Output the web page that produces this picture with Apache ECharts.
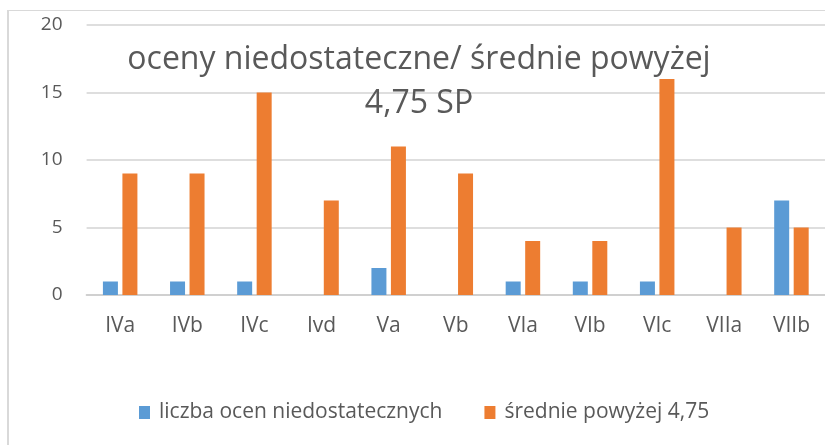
<!DOCTYPE html>
<html>
<head>
<meta charset="utf-8">
<script src="https://cdn.jsdelivr.net/npm/echarts@6/dist/echarts.min.js"></script>
<style>
html,body{margin:0;padding:0;background:#fff;}
#c{width:825px;height:445px;}
</style>
</head>
<body>
<div id="c"></div>
<script>
var categories = ['IVa','IVb','IVc','Ivd','Va','Vb','VIa','VIb','VIc','VIIa','VIIb'];
var seriesNames = ['liczba ocen niedostatecznych','średnie powyżej 4,75'];
var failingGrades = [1,1,1,0,2,0,1,1,1,0,7];
var highAverages = [9,9,15,7,11,9,4,4,16,5,5];
var titleLines = ['oceny niedostateczne/ średnie powyżej','4,75 SP'];
var yTicks = {min:0, max:20, interval:5};

var FONT = '"Open Sans", sans-serif';
var GRAY = '#595959';
var chart = echarts.init(document.getElementById('c'), null, {renderer:'canvas'});
chart.setOption({
  animation:false,
  backgroundColor:'#ffffff',
  grid:{left:86.6, top:25, width:746, height:270, containLabel:false},
  graphic:[
    {type:'line', shape:{x1:8, y1:10, x2:8, y2:445}, style:{stroke:'#d9d9d9', lineWidth:2}, silent:true},
    {type:'line', shape:{x1:7, y1:10.5, x2:825, y2:10.5}, style:{stroke:'#d9d9d9', lineWidth:1}, silent:true},
    {type:'text', x:419, y:38, z:100, silent:true,
      style:{text:titleLines.join('\n'), fill:GRAY, fontFamily:FONT, fontSize:32, lineHeight:44, align:'center', verticalAlign:'top'}}
  ],
  legend:{
    left:139, top:402, padding:0, itemWidth:11, itemHeight:13, itemGap:42,
    icon:'rect',
    data:seriesNames,
    textStyle:{color:GRAY, fontFamily:FONT, fontSize:21, padding:[0,0,0,4]}
  },
  xAxis:{
    type:'category', data:categories,
    axisLine:{lineStyle:{color:'#d0d0d0', width:2}},
    axisTick:{show:false},
    axisLabel:{color:GRAY, fontFamily:FONT, fontSize:21, margin:21}
  },
  yAxis:{
    type:'value', min:yTicks.min, max:yTicks.max, interval:yTicks.interval,
    axisLine:{show:false}, axisTick:{show:false},
    splitLine:{lineStyle:{color:'#dedede', width:2}},
    axisLabel:{color:GRAY, fontFamily:FONT, fontSize:19, margin:24}
  },
  series:[
    {name:seriesNames[0], type:'bar', data:failingGrades, barWidth:15, barGap:'30%',
      itemStyle:{color:'#5B9BD5'}},
    {name:seriesNames[1], type:'bar', data:highAverages, barWidth:15,
      itemStyle:{color:'#ED7D31'}}
  ]
});
</script>
</body>
</html>
